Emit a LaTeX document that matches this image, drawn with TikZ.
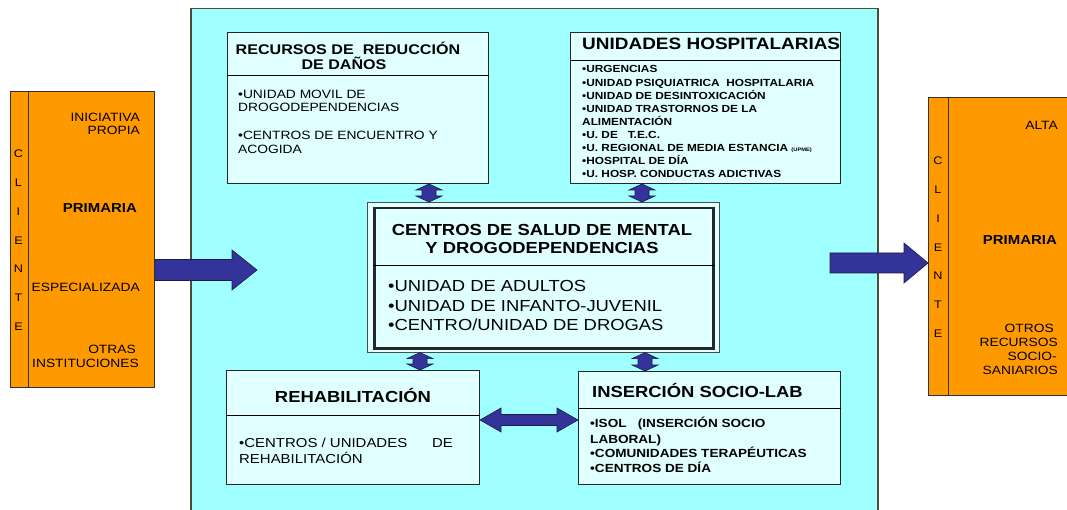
\documentclass[tikz,border=0pt]{standalone}
\usepackage{fontspec}
\setmainfont{Liberation Sans}[FakeStretch=1.15]
\usetikzlibrary{calc}
\definecolor{cyanbg}{HTML}{A0FFFF}
\definecolor{boxbg}{HTML}{E0FFFF}
\definecolor{clientor}{HTML}{FF9900}
\definecolor{arrowblue}{HTML}{333399}
\definecolor{arrowline}{HTML}{1A1A4D}
\definecolor{frameol}{HTML}{4D4D33}
\tikzset{
  panel/.style={draw=black!85, fill=boxbg, line width=1pt, anchor=north west, inner sep=0pt},
  client/.style={draw=black!80, fill=clientor, line width=0.8pt, anchor=north west, inner sep=0pt},
  ctext/.style={font=\fontsize{12}{14}\selectfont, inner sep=0pt},
  cbold/.style={font=\fontsize{13}{15}\selectfont\bfseries, inner sep=0pt},
  cli/.style={font=\fontsize{11}{13}\selectfont, inner sep=0pt, anchor=base},
  ttl/.style={font=\fontsize{14}{16}\selectfont\bfseries, inner sep=0pt},
  ttlbig/.style={font=\fontsize{16}{18}\selectfont\bfseries, inner sep=0pt},
  txt/.style={font=\fontsize{12}{14}\selectfont, inner sep=0pt, anchor=base west},
  small/.style={font=\fontsize{10.3}{12}\selectfont\bfseries, inner sep=0pt, anchor=base west},
  mid/.style={font=\fontsize{16}{18}\selectfont, inner sep=0pt, anchor=base west},
  istxt/.style={font=\fontsize{11.8}{13}\selectfont\bfseries, inner sep=0pt, anchor=base west},
  onearrow/.style n args={3}{draw=arrowline, fill=arrowblue, line width=0.6pt,
    to path={
      -- ($(\tikztostart)!#1!90:(\tikztotarget)$)
      -- ($(\tikztotarget)!#3!(\tikztostart)!#1!90:(\tikztotarget)$)
      -- ($(\tikztotarget)!#3!(\tikztostart)!#2!90:(\tikztotarget)$)
      -- (\tikztotarget)
      -- ($(\tikztotarget)!#3!(\tikztostart)!#2!-90:(\tikztotarget)$)
      -- ($(\tikztotarget)!#3!(\tikztostart)!#1!-90:(\tikztotarget)$)
      -- ($(\tikztostart)!#1!-90:(\tikztotarget)$)
      -- cycle}},
  twoarrow/.style n args={3}{draw=arrowline, fill=arrowblue, line width=0.6pt,
    to path={
      -- ($(\tikztostart)!#3!(\tikztotarget)!#2!90:(\tikztotarget)$)
      -- ($(\tikztostart)!#3!(\tikztotarget)!#1!90:(\tikztotarget)$)
      -- ($(\tikztotarget)!#3!(\tikztostart)!#1!90:(\tikztotarget)$)
      -- ($(\tikztotarget)!#3!(\tikztostart)!#2!90:(\tikztotarget)$)
      -- (\tikztotarget)
      -- ($(\tikztotarget)!#3!(\tikztostart)!#2!-90:(\tikztotarget)$)
      -- ($(\tikztotarget)!#3!(\tikztostart)!#1!-90:(\tikztotarget)$)
      -- ($(\tikztostart)!#3!(\tikztotarget)!#1!-90:(\tikztotarget)$)
      -- ($(\tikztostart)!#3!(\tikztotarget)!#2!-90:(\tikztotarget)$)
      -- cycle}}
}
\begin{document}
\begin{tikzpicture}[x=1pt,y=-1pt]
  \useasboundingbox (0,0) rectangle (1067,510);
  \fill[white] (0,0) rectangle (1067,510);
  % big frame
  \node[draw=frameol, fill=cyanbg, line width=1.5pt, anchor=north west, inner sep=0pt,
    minimum width=687pt, minimum height=520pt] (frame) at (190,8) {};
  % clients
  \node[client, minimum width=144pt, minimum height=296pt] (lcli) at (10,91) {};
  \draw[black!80, line width=0.8pt] ([xshift=18pt]lcli.north west) -- ([xshift=18pt]lcli.south west);
  \node[client, minimum width=147pt, minimum height=298pt] (rcli) at (928,97) {};
  \draw[black!80, line width=0.8pt] ([xshift=20pt]rcli.north west) -- ([xshift=20pt]rcli.south west);
  \foreach \l [count=\i from 0] in {C,L,I,E,N,T,E} {
    \node[cli] (lc\i) at (18.5,{158+28.7*\i}) {\l};
    \node[cli] (rc\i) at (938,{165+28.7*\i}) {\l};
  }
  \node[ctext, anchor=base east] (lini) at (140,122) {INICIATIVA};
  \node[ctext, anchor=base east] (lpro) at (140,135) {PROPIA};
  \node[cbold, anchor=base east] (lprim) at (137,213) {PRIMARIA};
  \node[ctext, anchor=base east] (lesp) at (140,292) {ESPECIALIZADA};
  \node[ctext, anchor=base east] (lotr) at (136,353) {OTRAS};
  \node[ctext, anchor=base east] (lins) at (139,367) {INSTITUCIONES};
  \node[ctext, anchor=base east] (ralta) at (1058,130) {ALTA};
  \node[cbold, anchor=base east] (rprim) at (1057,245) {PRIMARIA};
  \node[ctext, anchor=base east] (rotr) at (1054,332) {OTROS};
  \node[ctext, anchor=base east] (rrec) at (1058,346) {RECURSOS};
  \node[ctext, anchor=base east] (rsoc) at (1057,360) {SOCIO-};
  \node[ctext, anchor=base east] (rsan) at (1058,374) {SANIARIOS};
  % recursos de reduccion de danos
  \node[panel, minimum width=261pt, minimum height=151pt] (rrd) at (227,32) {};
  \draw ([yshift=-43pt]rrd.north west) -- ([yshift=-43pt]rrd.north east);
  \node[ttl, anchor=base] (rrdt1) at (348,55) {RECURSOS DE~~REDUCCIÓN};
  \node[ttl, anchor=base] (rrdt2) at (344,70) {DE DAÑOS};
  \foreach \t/\y [count=\i] in {{•UNIDAD MOVIL DE}/99, {DROGODEPENDENCIAS}/112,
      {•CENTROS DE ENCUENTRO Y}/140, {ACOGIDA}/154}
    \node[txt] (rrd\i) at (238,\y) {\t};
  % unidades hospitalarias
  \node[panel, minimum width=270pt, minimum height=151pt] (uh) at (570,32) {};
  \draw ([yshift=-28pt]uh.north west) -- ([yshift=-28pt]uh.north east);
  \node[ttlbig, font=\fontsize{16.5}{18}\selectfont\bfseries, anchor=base west] (uht) at (582,50) {UNIDADES HOSPITALARIAS};
  \foreach \t [count=\i from 0] in {{•URGENCIAS}, {•UNIDAD PSIQUIATRICA~~HOSPITALARIA},
      {•UNIDAD DE DESINTOXICACIÓN}, {•UNIDAD TRASTORNOS DE LA}, {ALIMENTACIÓN},
      {•U. DE~~~T.E.C.}, {•U. REGIONAL DE MEDIA ESTANCIA {\fontsize{5}{6}\selectfont(UPME)}},
      {•HOSPITAL DE DÍA}, {•U. HOSP. CONDUCTAS ADICTIVAS}}
    \node[small] (uh\i) at (582,{73+13.1*\i}) {\t};
  % centros de salud mental
  \node[draw=black!70, fill=boxbg, line width=0.6pt, anchor=north west, inner sep=0pt,
    minimum width=352pt, minimum height=150pt] (csmo) at (367,202) {};
  \node[panel, line width=2.5pt, minimum width=339pt, minimum height=140pt] (csm) at (373,207) {};
  \draw ([yshift=-58pt]csm.north west) -- ([yshift=-58pt]csm.north east);
  \node[ttlbig, anchor=base] (csmt1) at (542,236) {CENTROS DE SALUD DE MENTAL};
  \node[ttlbig, anchor=base] (csmt2) at (542,254) {Y DROGODEPENDENCIAS};
  \foreach \t/\y [count=\i] in {{•UNIDAD DE ADULTOS}/292, {•UNIDAD DE INFANTO-JUVENIL}/312,
      {•CENTRO/UNIDAD DE DROGAS}/330}
    \node[mid] (csm\i) at (388,\y) {\t};
  % rehabilitacion
  \node[panel, minimum width=253pt, minimum height=114pt] (reh) at (226,370) {};
  \draw ([yshift=-45pt]reh.north west) -- ([yshift=-45pt]reh.north east);
  \node[ttlbig, anchor=base] (reht) at (353,402) {REHABILITACIÓN};
  \node[txt, font=\fontsize{13}{15}\selectfont] (reh1) at (239,447) {•CENTROS / UNIDADES~~~~~~DE};
  \node[txt, font=\fontsize{13}{15}\selectfont] (reh2) at (239,463) {REHABILITACIÓN};
  % insercion socio-laboral
  \node[panel, minimum width=262pt, minimum height=113pt] (ins) at (578,371) {};
  \draw ([yshift=-37pt]ins.north west) -- ([yshift=-37pt]ins.north east);
  \node[ttlbig, anchor=base west] (inst) at (592,397) {INSERCIÓN SOCIO-LAB};
  \foreach \t/\y [count=\i] in {{•ISOL~~~(INSERCIÓN SOCIO}/427, {LABORAL)}/443,
      {•COMUNIDADES TERAPÉUTICAS}/457, {•CENTROS DE DÍA}/472}
    \node[istxt] (ins\i) at (590,\y) {\t};
  % arrows
  \coordinate (lin) at (257,270);
  \coordinate (rout) at (830,263);
  \draw[onearrow={10.5pt}{20pt}{25pt}] (lcli.east |- lin) to (lin);
  \draw[onearrow={10pt}{20pt}{24pt}] (rout) to (rcli.west |- rout);
  \coordinate (ax1) at (429,0);
  \coordinate (ax2) at (642,0);
  \coordinate (ax3) at (420,0);
  \coordinate (ax4) at (645,0);
  \coordinate (ay) at (0,420);
  \draw[twoarrow={7pt}{13pt}{6pt}] (rrd.south -| ax1) to (csmo.north -| ax1);
  \draw[twoarrow={7pt}{13pt}{6pt}] (uh.south -| ax2) to (csmo.north -| ax2);
  \draw[twoarrow={7pt}{13pt}{6pt}] (csmo.south -| ax3) to (reh.north -| ax3);
  \draw[twoarrow={7pt}{13pt}{6pt}] (csmo.south -| ax4) to (ins.north -| ax4);
  \draw[twoarrow={5.5pt}{12pt}{21pt}] (reh.east |- ay) to (ins.west |- ay);
\end{tikzpicture}
\end{document}
